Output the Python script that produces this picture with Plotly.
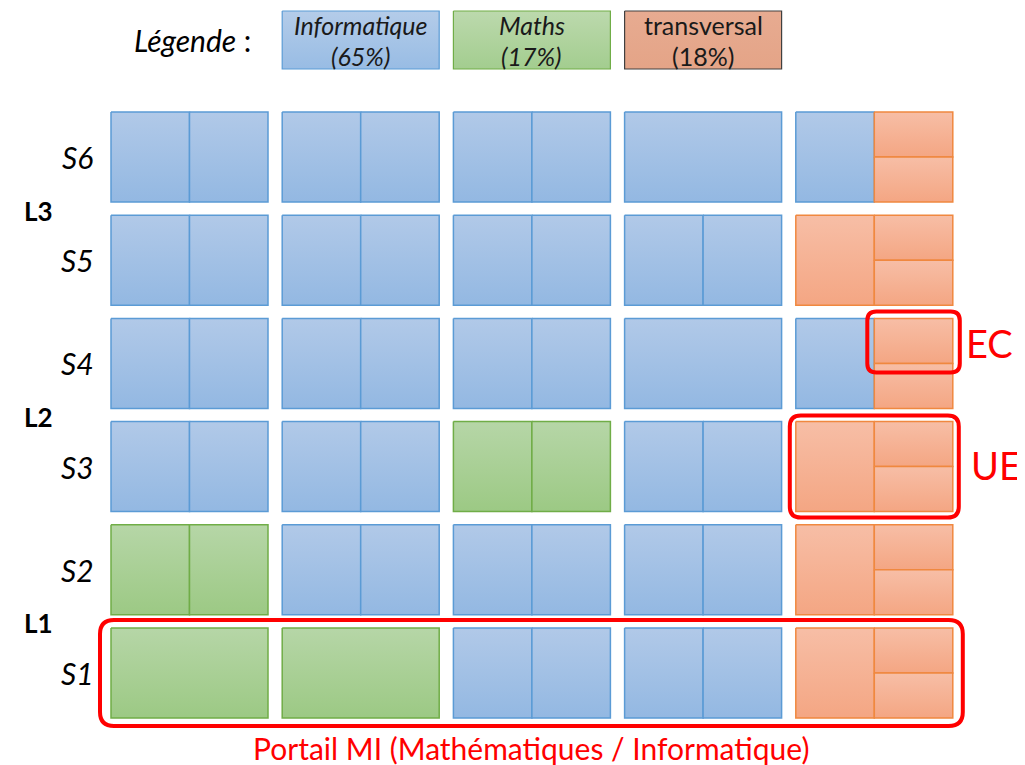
import plotly.graph_objects as go

# ---------------- data ----------------
semesters = ["S6", "S5", "S4", "S3", "S2", "S1"]          # top to bottom
levels = ["L3", "L2", "L1"]
level_rows = [["S6", "S5"], ["S4", "S3"], ["S2", "S1"]]
# UE layout codes: "1" single EC, "2" two ECs side by side, "3" one EC + two stacked ECs
layout_S6 = ["2", "2", "2", "1", "3"]
layout_S5 = ["2", "2", "2", "2", "3"]
layout_S4 = ["2", "2", "2", "1", "3"]
layout_S3 = ["2", "2", "2", "2", "3"]
layout_S2 = ["2", "2", "2", "2", "3"]
layout_S1 = ["1", "1", "2", "2", "3"]
# UE kinds: I = Informatique, M = Maths, T = transversal, IT = info EC + transversal ECs
kind_S6 = ["I", "I", "I", "I", "IT"]
kind_S5 = ["I", "I", "I", "I", "T"]
kind_S4 = ["I", "I", "I", "I", "IT"]
kind_S3 = ["I", "I", "M", "I", "T"]
kind_S2 = ["M", "I", "I", "I", "T"]
kind_S1 = ["M", "M", "I", "I", "T"]
legend_names = ["Informatique", "Maths", "transversal"]
legend_shares = [65, 17, 18]
legend_italic = [True, True, False]

layouts = dict(S6=layout_S6, S5=layout_S5, S4=layout_S4, S3=layout_S3, S2=layout_S2, S1=layout_S1)
kinds = dict(S6=kind_S6, S5=kind_S5, S4=kind_S4, S3=kind_S3, S2=kind_S2, S1=kind_S1)

# ---------------- styles ----------------
FILL = {
    "I": ("#b1c9e8", "#93b8e2", "#5b9bd5"),
    "M": ("#b6d6a7", "#9cc984", "#70ad47"),
    "T": ("#f7bea6", "#f4a683", "#f0883f"),
}
LEG_FILL = [("#b4cce9", "#98bce4", "#5b9bd5"),
            ("#bcd9ad", "#a3cd8f", "#70ad47"),
            ("#e7ab91", "#e4a487", "#404040")]
FONT = "Lato, Open Sans, sans-serif"
RED = "#ff0000"

X0, PX, W = 111, 171.2, 157
Y0, PY, H = 112, 103.2, 90
PAGE_OFF = 8  # default body margin of the html page

fig = go.Figure()


def rect(x0, y0, x1, y1, kind, lw=1.5, fills=None):
    top, bot, line = fills if fills else FILL[kind]
    fig.add_trace(go.Scatter(
        x=[x0, x1, x1, x0, x0], y=[y0, y0, y1, y1, y0],
        mode="lines", fill="toself",
        fillgradient=dict(type="vertical", start=y0, stop=y1,
                          colorscale=[[0, top], [1, bot]]),
        line=dict(color=line, width=lw),
        hoverinfo="skip", showlegend=False))


def ue_box(si, ci):
    return (X0 + ci * PX, Y0 + si * PY, X0 + ci * PX + W, Y0 + si * PY + H)


for si, s in enumerate(semesters):
    for ci, (lay, kd) in enumerate(zip(layouts[s], kinds[s])):
        x0, y0, x1, y1 = ue_box(si, ci)
        xm, ym = (x0 + x1) / 2, (y0 + y1) / 2
        left_k = "I" if kd == "IT" else kd
        right_k = "T" if kd == "IT" else kd
        if lay == "1":
            rect(x0, y0, x1, y1, left_k)
        elif lay == "2":
            rect(x0, y0, xm, y1, left_k)
            rect(xm, y0, x1, y1, right_k)
        else:
            rect(x0, y0, xm, y1, left_k)
            rect(xm, y0, x1, ym, right_k)
            rect(xm, ym, x1, y1, right_k)

annotations = []
# semester labels
for si, s in enumerate(semesters):
    annotations.append(dict(x=77, y=Y0 + si * PY + H / 2, text="<i>%s</i>" % s,
                            showarrow=False, font=dict(size=30, color="#000000", family=FONT)))
# level labels, placed in the gap between the two semesters of the level
for lv, rows in zip(levels, level_rows):
    si = semesters.index(rows[0])
    annotations.append(dict(x=38, y=Y0 + si * PY + H + (PY - H) / 2 + 2, text="<b>%s</b>" % lv,
                            showarrow=False, font=dict(size=26, color="#000000", family=FONT)))

# legend
annotations.append(dict(x=192, y=40, text="<i>Légende</i> :", showarrow=False,
                        font=dict(size=30, color="#000000", family=FONT)))
for i, (nm, sh, it) in enumerate(zip(legend_names, legend_shares, legend_italic)):
    x0 = X0 + (i + 1) * PX
    rect(x0, 11, x0 + W, 69, None, lw=1.2, fills=LEG_FILL[i])
    t1, t2 = nm, "(%d%%)" % sh
    if it:
        t1, t2 = "<i>%s</i>" % t1, "<i>%s</i>" % t2
    annotations.append(dict(x=x0 + W / 2, y=25, text=t1, showarrow=False,
                            font=dict(size=25, color="#1a1a1a", family=FONT)))
    annotations.append(dict(x=x0 + W / 2, y=56, text=t2, showarrow=False,
                            font=dict(size=25, color="#1a1a1a", family=FONT)))


# red highlight frames (rounded)
def rounded(x0, y0, x1, y1, r):
    return ("M %f %f L %f %f Q %f %f %f %f L %f %f Q %f %f %f %f "
            "L %f %f Q %f %f %f %f L %f %f Q %f %f %f %f Z") % (
        x0 + r, y0, x1 - r, y0, x1, y0, x1, y0 + r,
        x1, y1 - r, x1, y1, x1 - r, y1,
        x0 + r, y1, x0, y1, x0, y1 - r,
        x0, y0 + r, x0, y0, x0 + r, y0)


shapes = []
# S1 row (Portail MI)
sx0, sy0, _, _ = ue_box(5, 0)
_, _, sx1, sy1 = ue_box(5, 4)
shapes.append(dict(type="path", path=rounded(sx0 - 11, sy0 - 8, sx1 + 10, sy1 + 8, 14),
                   line=dict(color=RED, width=4)))
annotations.append(dict(x=(sx0 + sx1) / 2, y=sy1 + 30, text="Portail MI (Mathématiques / Informatique)",
                        showarrow=False, font=dict(size=30, color=RED, family=FONT)))
# one UE (S3, last column)
ux0, uy0, ux1, uy1 = ue_box(3, 4)
shapes.append(dict(type="path", path=rounded(ux0 - 6, uy0 - 6, ux1 + 6, uy1 + 6, 11),
                   line=dict(color=RED, width=4)))
annotations.append(dict(x=ux1 + 43, y=(uy0 + uy1) / 2 - 2, text="UE", showarrow=False,
                        font=dict(size=38, color=RED, family=FONT)))
# one EC (S4, last column, top right)
ex0, ey0, ex1, ey1 = ue_box(2, 4)
exm, eym = (ex0 + ex1) / 2, (ey0 + ey1) / 2
shapes.append(dict(type="path", path=rounded(exm - 7, ey0 - 7, ex1 + 7, eym + 9, 9),
                   line=dict(color=RED, width=4)))
annotations.append(dict(x=ex1 + 37, y=(ey0 + eym) / 2 + 2, text="EC", showarrow=False,
                        font=dict(size=38, color=RED, family=FONT)))

fig.update_layout(
    width=1025 - PAGE_OFF, height=765 - PAGE_OFF,
    margin=dict(l=0, r=0, t=0, b=0),
    paper_bgcolor="white", plot_bgcolor="white",
    xaxis=dict(range=[PAGE_OFF, 1025], visible=False, fixedrange=True),
    yaxis=dict(range=[765, PAGE_OFF], visible=False, fixedrange=True),
    shapes=shapes, annotations=annotations,
    showlegend=False,
)
fig.write_html("out.html", config=dict(displayModeBar=False))
